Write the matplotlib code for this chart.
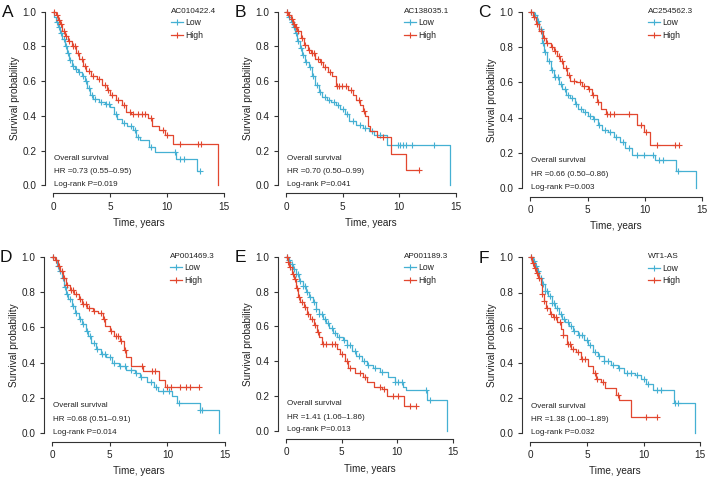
import matplotlib
matplotlib.use("Agg")
import matplotlib.pyplot as plt
import numpy as np
from matplotlib.lines import Line2D

plt.rcParams['font.family'] = ['Liberation Sans', 'DejaVu Sans']

# ---- data (time in years, survival probability) ----
genes = ["AC010422.4", "AC138035.1", "AC254562.3", "AP001469.3", "AP001189.3", "WT1-AS"]
letters = ["A", "B", "C", "D", "E", "F"]
hr_labels = ["HR =0.73 (0.55\u20130.95)", "HR =0.70 (0.50\u20130.99)", "HR =0.66 (0.50\u20130.86)",
             "HR =0.68 (0.51\u20130.91)", "HR =1.41 (1.06\u20131.86)", "HR =1.38 (1.00\u20131.89)"]
p_labels = ["Log-rank P=0.019", "Log-rank P=0.041", "Log-rank P=0.003",
            "Log-rank P=0.014", "Log-rank P=0.013", "Log-rank P=0.032"]

# A
low_a_time = [0, 0.1, 0.25, 0.4, 0.6, 0.8, 1.0, 1.2, 1.4, 1.6, 1.9, 2.2, 2.5, 2.8, 3.0, 3.2, 3.5, 4.0, 4.5, 5.0, 5.3, 5.6, 6.0, 6.5, 7.0, 7.3, 7.6, 8.4, 8.9, 10.8, 12.6]
low_a_surv = [1.0, 0.97, 0.94, 0.91, 0.88, 0.84, 0.80, 0.76, 0.72, 0.69, 0.67, 0.65, 0.63, 0.60, 0.56, 0.52, 0.50, 0.48, 0.47, 0.45, 0.41, 0.38, 0.36, 0.34, 0.32, 0.28, 0.26, 0.22, 0.19, 0.15, 0.08]
low_a_cens = [0.3, 0.5, 0.7, 0.9, 1.1, 1.3, 1.5, 1.7, 2.0, 2.3, 2.6, 2.9, 3.1, 3.4, 3.7, 4.2, 4.6, 4.9, 5.5, 6.2, 6.8, 7.2, 7.4, 8.6, 10.7, 11.1, 11.5, 12.9]
high_a_time = [0, 0.2, 0.4, 0.6, 0.8, 1.0, 1.3, 1.6, 2.0, 2.3, 2.6, 2.9, 3.3, 3.8, 4.3, 4.7, 5.0, 5.5, 6.0, 6.4, 6.8, 8.3, 8.7, 9.3, 9.8, 10.5, 14.5]
high_a_surv = [1.0, 0.98, 0.95, 0.93, 0.89, 0.86, 0.83, 0.80, 0.76, 0.73, 0.69, 0.66, 0.63, 0.61, 0.58, 0.55, 0.52, 0.49, 0.46, 0.42, 0.41, 0.39, 0.34, 0.32, 0.29, 0.236, 0.0]
high_a_cens = [0.1, 0.3, 0.5, 0.7, 0.9, 1.1, 1.4, 1.7, 1.9, 2.2, 2.5, 2.8, 3.1, 3.5, 4.0, 4.5, 4.8, 5.2, 5.7, 6.2, 6.7, 7.0, 7.4, 7.8, 8.1, 8.6, 9.6, 10.0, 11.1, 12.7, 13.0]

# B
low_b_time = [0, 0.2, 0.4, 0.6, 0.8, 1.0, 1.2, 1.4, 1.7, 2.0, 2.3, 2.6, 2.9, 3.2, 3.6, 4.0, 4.4, 4.8, 5.2, 5.6, 6.2, 6.8, 7.3, 7.8, 8.9, 14.5]
low_b_surv = [1.0, 0.97, 0.94, 0.91, 0.88, 0.83, 0.79, 0.75, 0.71, 0.68, 0.63, 0.58, 0.54, 0.51, 0.49, 0.48, 0.46, 0.44, 0.41, 0.37, 0.35, 0.33, 0.31, 0.29, 0.23, 0.0]
low_b_cens = [0.1, 0.3, 0.5, 0.7, 0.9, 1.1, 1.3, 1.5, 1.8, 2.1, 2.4, 2.7, 3.0, 3.4, 3.8, 4.2, 4.6, 5.0, 5.4, 5.9, 6.5, 7.0, 7.6, 8.3, 9.9, 10.1, 10.3, 10.6, 11.1, 13.1]
high_b_time = [0, 0.2, 0.4, 0.6, 0.8, 1.0, 1.3, 1.6, 1.9, 2.2, 2.6, 3.0, 3.3, 3.7, 4.1, 4.4, 5.5, 5.9, 6.2, 6.5, 6.8, 7.0, 7.2, 7.4, 8.0, 9.3, 10.6]
high_b_surv = [1.0, 0.98, 0.96, 0.93, 0.91, 0.89, 0.85, 0.81, 0.78, 0.76, 0.73, 0.71, 0.68, 0.65, 0.63, 0.57, 0.55, 0.52, 0.49, 0.46, 0.43, 0.40, 0.34, 0.31, 0.28, 0.18, 0.09]
high_b_cens = [0.1, 0.3, 0.5, 0.7, 0.9, 1.1, 1.4, 1.7, 2.0, 2.3, 2.5, 2.8, 3.1, 3.4, 3.9, 4.5, 4.7, 4.9, 5.3, 5.7, 6.4, 6.9, 8.6, 11.7]

# C
low_c_time = [0, 0.3, 0.6, 0.8, 1.0, 1.2, 1.5, 1.8, 2.1, 2.5, 2.8, 3.1, 3.5, 3.9, 4.2, 4.6, 5.0, 5.5, 5.9, 6.3, 6.8, 7.3, 7.8, 8.3, 8.9, 10.9, 12.7, 14.5]
low_c_surv = [1.0, 0.98, 0.95, 0.90, 0.82, 0.77, 0.72, 0.67, 0.63, 0.59, 0.56, 0.53, 0.51, 0.48, 0.45, 0.43, 0.41, 0.39, 0.36, 0.33, 0.32, 0.29, 0.26, 0.23, 0.19, 0.16, 0.10, 0.0]
low_c_cens = [0.1, 0.4, 0.7, 0.9, 1.1, 1.3, 1.6, 1.9, 2.2, 2.4, 2.7, 3.0, 3.3, 3.6, 4.0, 4.4, 4.8, 5.2, 5.6, 6.0, 6.5, 7.0, 7.5, 8.1, 8.6, 9.3, 9.9, 10.7, 11.2, 11.6, 12.9]
high_c_time = [0, 0.2, 0.5, 0.8, 1.1, 1.4, 1.8, 2.1, 2.3, 2.6, 2.9, 3.2, 3.5, 4.0, 4.5, 5.0, 5.4, 5.8, 6.2, 6.6, 9.3, 9.9, 10.5]
high_c_surv = [1.0, 0.97, 0.93, 0.89, 0.85, 0.82, 0.80, 0.78, 0.75, 0.72, 0.68, 0.64, 0.61, 0.60, 0.58, 0.56, 0.53, 0.49, 0.45, 0.42, 0.36, 0.32, 0.245]
high_c_cens = [0.1, 0.3, 0.6, 0.9, 1.2, 1.5, 1.9, 2.2, 2.5, 2.8, 3.1, 3.4, 3.8, 4.3, 4.7, 5.1, 5.5, 5.9, 6.7, 7.0, 7.3, 8.6, 9.7, 10.1, 11.1, 12.6, 13.0]

# D
low_d_time = [0, 0.2, 0.4, 0.6, 0.8, 1.0, 1.2, 1.4, 1.7, 2.0, 2.3, 2.6, 2.9, 3.1, 3.4, 3.8, 4.2, 4.7, 5.2, 5.8, 6.4, 7.2, 7.6, 8.2, 8.8, 9.2, 10.4, 10.8, 12.8, 14.5]
low_d_surv = [1.0, 0.98, 0.95, 0.92, 0.88, 0.83, 0.79, 0.76, 0.72, 0.68, 0.65, 0.62, 0.58, 0.55, 0.51, 0.48, 0.45, 0.43, 0.40, 0.38, 0.36, 0.34, 0.32, 0.29, 0.26, 0.24, 0.21, 0.17, 0.13, 0.0]
low_d_cens = [0.1, 0.3, 0.5, 0.7, 0.9, 1.1, 1.3, 1.5, 1.8, 2.1, 2.4, 2.7, 3.0, 3.3, 3.6, 3.9, 4.3, 4.6, 5.0, 5.4, 5.9, 6.3, 6.8, 7.3, 7.7, 8.6, 9.0, 9.6, 10.1, 11.0, 12.8, 13.0]
high_d_time = [0, 0.2, 0.5, 0.7, 0.9, 1.2, 1.5, 1.9, 2.3, 2.6, 3.0, 3.5, 4.0, 4.4, 4.6, 5.0, 5.4, 5.9, 6.2, 6.4, 6.8, 7.9, 9.3, 9.8]
high_d_surv = [1.0, 0.98, 0.95, 0.92, 0.88, 0.84, 0.81, 0.79, 0.76, 0.73, 0.71, 0.69, 0.68, 0.65, 0.61, 0.58, 0.55, 0.52, 0.47, 0.43, 0.38, 0.35, 0.30, 0.26]
high_d_cens = [0.1, 0.3, 0.6, 0.8, 1.0, 1.3, 1.6, 1.8, 2.1, 2.4, 2.7, 2.9, 3.2, 3.6, 4.2, 4.5, 5.1, 5.5, 5.7, 6.0, 6.3, 7.8, 8.7, 8.9, 10.0, 10.3, 11.1, 11.6, 12.0, 12.7]

# E
low_e_time = [0, 0.2, 0.4, 0.6, 0.9, 1.2, 1.5, 1.8, 2.1, 2.4, 2.7, 3.0, 3.3, 3.6, 3.9, 4.2, 4.6, 5.1, 5.5, 5.9, 6.3, 6.8, 7.3, 7.8, 8.5, 9.2, 9.8, 10.5, 10.8, 12.7, 14.5]
low_e_surv = [1.0, 0.98, 0.96, 0.93, 0.90, 0.86, 0.83, 0.80, 0.77, 0.74, 0.70, 0.67, 0.64, 0.62, 0.59, 0.56, 0.54, 0.52, 0.49, 0.46, 0.43, 0.40, 0.38, 0.36, 0.34, 0.31, 0.28, 0.25, 0.235, 0.176, 0.0]
low_e_cens = [0.1, 0.3, 0.5, 0.7, 0.9, 1.1, 1.3, 1.5, 1.7, 1.9, 2.2, 2.5, 2.7, 3.0, 3.2, 3.5, 3.8, 4.1, 4.4, 4.8, 5.2, 5.5, 5.8, 6.2, 6.6, 7.0, 7.4, 8.0, 8.6, 9.8, 10.1, 10.4, 12.6, 13.0]
high_e_time = [0, 0.15, 0.3, 0.5, 0.7, 0.9, 1.1, 1.3, 1.6, 1.9, 2.2, 2.5, 2.8, 3.0, 3.2, 4.6, 4.9, 5.3, 5.6, 6.2, 6.9, 7.3, 7.9, 8.6, 9.1, 10.6]
high_e_surv = [1.0, 0.97, 0.94, 0.90, 0.87, 0.82, 0.77, 0.74, 0.71, 0.67, 0.64, 0.61, 0.57, 0.54, 0.50, 0.47, 0.44, 0.40, 0.36, 0.33, 0.31, 0.28, 0.25, 0.24, 0.20, 0.14]
high_e_cens = [0.1, 0.2, 0.4, 0.6, 0.8, 1.0, 1.2, 1.4, 1.7, 2.0, 2.3, 2.6, 2.9, 3.3, 3.6, 4.1, 4.4, 5.0, 5.5, 5.8, 6.7, 7.1, 8.5, 8.8, 9.6, 10.1, 11.2, 11.7]

# F
low_f_time = [0, 0.2, 0.4, 0.6, 0.8, 1.0, 1.3, 1.6, 1.9, 2.2, 2.5, 2.8, 3.1, 3.4, 3.8, 4.2, 4.7, 5.1, 5.5, 6.0, 6.5, 7.1, 7.7, 8.3, 9.2, 9.8, 10.2, 10.8, 12.7, 14.5]
low_f_surv = [1.0, 0.98, 0.95, 0.92, 0.88, 0.85, 0.81, 0.78, 0.74, 0.71, 0.68, 0.65, 0.63, 0.61, 0.58, 0.56, 0.53, 0.50, 0.46, 0.44, 0.41, 0.39, 0.37, 0.34, 0.33, 0.31, 0.28, 0.245, 0.174, 0.0]
low_f_cens = [0.1, 0.3, 0.5, 0.7, 0.9, 1.1, 1.3, 1.5, 1.7, 1.9, 2.1, 2.4, 2.7, 3.0, 3.3, 3.6, 3.9, 4.3, 4.6, 5.0, 5.3, 5.7, 6.1, 6.5, 6.9, 7.3, 7.8, 8.5, 8.9, 9.4, 10.0, 10.4, 11.2, 11.5, 12.8, 13.0]
high_f_time = [0, 0.15, 0.3, 0.5, 0.7, 0.9, 1.0, 1.2, 1.4, 1.7, 2.0, 2.4, 2.7, 2.9, 3.2, 3.6, 4.0, 4.5, 5.1, 5.5, 5.8, 6.2, 6.6, 7.6, 7.8, 8.9]
high_f_surv = [1.0, 0.97, 0.94, 0.91, 0.88, 0.84, 0.79, 0.75, 0.71, 0.68, 0.66, 0.63, 0.59, 0.56, 0.51, 0.48, 0.46, 0.42, 0.38, 0.34, 0.31, 0.29, 0.255, 0.22, 0.19, 0.095]
high_f_cens = [0.1, 0.2, 0.4, 0.6, 0.8, 1.0, 1.2, 1.5, 1.8, 2.1, 2.3, 2.6, 2.9, 3.3, 3.5, 3.8, 4.2, 4.6, 4.8, 5.7, 5.9, 6.4, 7.7, 10.2, 11.2]

low_curves = [(low_a_time, low_a_surv, low_a_cens), (low_b_time, low_b_surv, low_b_cens),
              (low_c_time, low_c_surv, low_c_cens), (low_d_time, low_d_surv, low_d_cens),
              (low_e_time, low_e_surv, low_e_cens), (low_f_time, low_f_surv, low_f_cens)]
high_curves = [(high_a_time, high_a_surv, high_a_cens), (high_b_time, high_b_surv, high_b_cens),
               (high_c_time, high_c_surv, high_c_cens), (high_d_time, high_d_surv, high_d_cens),
               (high_e_time, high_e_surv, high_e_cens), (high_f_time, high_f_surv, high_f_cens)]

# pixel positions of (x=0, x=15, y=1, y=0) for each panel, measured on the 709x480 reference
panel_px = [(53.3, 224.0, 11.7, 185.3), (286.0, 456.0, 11.7, 185.3), (530.3, 702.0, 11.7, 188.3),
            (52.3, 225.0, 256.7, 433.3), (286.0, 452.7, 256.7, 430.7), (530.3, 700.3, 257.3, 433.3)]

BLUE = '#45b0d3'
RED = '#e2472f'
DARK = '#333333'
TXT = '#222222'
W, H = 709, 480
XLO, XHI = -0.75, 15.6
YLO, YHI = -0.047, 1.04


def draw_km(ax, t, s, cens, color):
    t = np.asarray(t, float)
    s = np.asarray(s, float)
    cens = np.asarray(cens, float)
    end = max(t[-1], cens[-1])
    ax.step(np.append(t, end), np.append(s, s[-1]), where='post', color=color, lw=0.9)
    idx = np.searchsorted(t, cens, side='right') - 1
    ax.plot(cens, s[idx], ls='none', marker='+', ms=4.8, mew=0.8, color=color)


fig = plt.figure(figsize=(W / 100, H / 100), dpi=100)

for i in range(6):
    x0, x15, y1, y0 = panel_px[i]
    ppx = (x15 - x0) / 15.0
    ppy = (y0 - y1)
    left = x0 + XLO * ppx
    right = x0 + XHI * ppx
    top = y0 - YHI * ppy
    bottom = y0 - YLO * ppy
    aw, ah = right - left, bottom - top
    ax = fig.add_axes([left / W, 1 - bottom / H, aw / W, ah / H])
    ax.set_xlim(XLO, XHI)
    ax.set_ylim(YLO, YHI)

    draw_km(ax, *low_curves[i], BLUE)
    draw_km(ax, *high_curves[i], RED)

    for side in ['top', 'right']:
        ax.spines[side].set_visible(False)
    ax.spines['left'].set_bounds(0, 1)
    ax.spines['bottom'].set_bounds(0, 15)
    for side in ['left', 'bottom']:
        ax.spines[side].set_color(DARK)
        ax.spines[side].set_linewidth(0.8)
    ax.set_xticks([0, 5, 10, 15])
    ax.set_yticks([0.0, 0.2, 0.4, 0.6, 0.8, 1.0])
    ax.set_yticklabels(['0.0', '0.2', '0.4', '0.6', '0.8', '1.0'])
    ax.tick_params(length=3, width=0.8, color=DARK, labelsize=7.2, labelcolor=TXT, pad=3)

    ax.set_xlabel('Time, years', fontsize=7.2, color=TXT, va='center')
    ax.set_ylabel('Survival probability', fontsize=7.2, color=TXT, va='center')
    ax.xaxis.set_label_coords((x0 + 7.5 * ppx - left) / aw, (bottom - (y0 + 38)) / ah)
    ax.yaxis.set_label_coords((x0 - 38 - left) / aw, (bottom - 0.5 * (y0 + y1)) / ah)

    # annotation block
    ax.text(0.1, 0.155, 'Overall survival', fontsize=5.8, color=TXT, va='center')
    ax.text(0.1, 0.078, hr_labels[i], fontsize=5.8, color=TXT, va='center')
    ax.text(0.1, 0.005, p_labels[i], fontsize=5.8, color=TXT, va='center')

    # legend
    handles = [Line2D([], [], color=BLUE, lw=0.9, marker='+', ms=4.8, mew=0.8),
               Line2D([], [], color=RED, lw=0.9, marker='+', ms=4.8, mew=0.8)]
    leg = ax.legend(handles, ['Low', 'High'], title=genes[i], loc='upper left',
                    bbox_to_anchor=((x0 + 118) / W, 1 - (y1 - 4) / H), bbox_transform=fig.transFigure,
                    frameon=False, fontsize=6.2, title_fontsize=5.9, handlelength=1.4,
                    handletextpad=0.2, labelspacing=0.4, borderaxespad=0, borderpad=0,
                    alignment='left')
    leg.get_title().set_color(TXT)
    for txt in leg.get_texts():
        txt.set_color(TXT)

    fig.text((x0 - 46) / W, 1 - (y1 + 1) / H, letters[i], fontsize=12.5, ha='center', va='center',
             color='#111111')

fig.savefig('out.png', dpi=100)
